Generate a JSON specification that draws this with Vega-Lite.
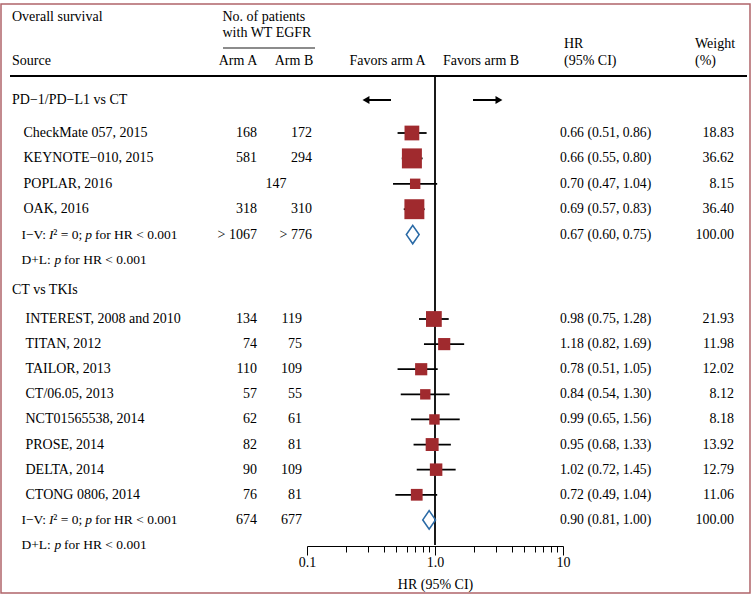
{
  "$schema": "https://vega.github.io/schema/vega-lite/v6.json",
  "width": 749,
  "height": 589,
  "autosize": {"type": "none"},
  "padding": {"left": 1, "top": 4, "right": 3, "bottom": 4},
  "background": "white",
  "config": {
    "view": {"stroke": "#b0646a", "strokeWidth": 1.5},
    "text": {"font": "Liberation Serif", "fontSize": 14, "color": "black", "baseline": "middle"},
    "axis": {"labelFont": "Liberation Serif", "titleFont": "Liberation Serif"}
  },
  "datasets": {
    "rows": [
      {"row": 0, "kind": "group", "grp": 1, "label": "PD−1/PD−L1 vs CT"},
      {"row": 1, "kind": "study", "grp": 1, "label": "CheckMate 057, 2015", "armA": "168", "armB": "172", "hr": 0.66, "lo": 0.51, "hi": 0.86, "hrText": "0.66 (0.51, 0.86)", "weight": 18.83},
      {"row": 2, "kind": "study", "grp": 1, "label": "KEYNOTE−010, 2015", "armA": "581", "armB": "294", "hr": 0.66, "lo": 0.55, "hi": 0.80, "hrText": "0.66 (0.55, 0.80)", "weight": 36.62},
      {"row": 3, "kind": "study", "grp": 1, "label": "POPLAR, 2016", "total": "147", "hr": 0.70, "lo": 0.47, "hi": 1.04, "hrText": "0.70 (0.47, 1.04)", "weight": 8.15},
      {"row": 4, "kind": "study", "grp": 1, "label": "OAK, 2016", "armA": "318", "armB": "310", "hr": 0.69, "lo": 0.57, "hi": 0.83, "hrText": "0.69 (0.57, 0.83)", "weight": 36.40},
      {"row": 5, "kind": "summary", "grp": 1, "t1": "I−V:", "t2": "I", "t3": "² = 0;", "t4": "p", "t5": "for HR < 0.001", "armA": "> 1067", "armB": "> 776", "hr": 0.67, "lo": 0.60, "hi": 0.75, "hrText": "0.67 (0.60, 0.75)", "weight": 100.00},
      {"row": 6, "kind": "note", "grp": 1, "t1": "D+L:", "t4": "p", "t5": "for HR < 0.001"},
      {"row": 7, "kind": "group", "grp": 2, "label": "CT vs TKIs"},
      {"row": 8, "kind": "study", "grp": 2, "label": "INTEREST, 2008 and 2010", "armA": "134", "armB": "119", "hr": 0.98, "lo": 0.75, "hi": 1.28, "hrText": "0.98 (0.75, 1.28)", "weight": 21.93},
      {"row": 9, "kind": "study", "grp": 2, "label": "TITAN, 2012", "armA": "74", "armB": "75", "hr": 1.18, "lo": 0.82, "hi": 1.69, "hrText": "1.18 (0.82, 1.69)", "weight": 11.98},
      {"row": 10, "kind": "study", "grp": 2, "label": "TAILOR, 2013", "armA": "110", "armB": "109", "hr": 0.78, "lo": 0.51, "hi": 1.05, "hrText": "0.78 (0.51, 1.05)", "weight": 12.02},
      {"row": 11, "kind": "study", "grp": 2, "label": "CT/06.05, 2013", "armA": "57", "armB": "55", "hr": 0.84, "lo": 0.54, "hi": 1.30, "hrText": "0.84 (0.54, 1.30)", "weight": 8.12},
      {"row": 12, "kind": "study", "grp": 2, "label": "NCT01565538, 2014", "armA": "62", "armB": "61", "hr": 0.99, "lo": 0.65, "hi": 1.56, "hrText": "0.99 (0.65, 1.56)", "weight": 8.18},
      {"row": 13, "kind": "study", "grp": 2, "label": "PROSE, 2014", "armA": "82", "armB": "81", "hr": 0.95, "lo": 0.68, "hi": 1.33, "hrText": "0.95 (0.68, 1.33)", "weight": 13.92},
      {"row": 14, "kind": "study", "grp": 2, "label": "DELTA, 2014", "armA": "90", "armB": "109", "hr": 1.02, "lo": 0.72, "hi": 1.45, "hrText": "1.02 (0.72, 1.45)", "weight": 12.79},
      {"row": 15, "kind": "study", "grp": 2, "label": "CTONG 0806, 2014", "armA": "76", "armB": "81", "hr": 0.72, "lo": 0.49, "hi": 1.04, "hrText": "0.72 (0.49, 1.04)", "weight": 11.06},
      {"row": 16, "kind": "summary", "grp": 2, "t1": "I−V:", "t2": "I", "t3": "² = 0;", "t4": "p", "t5": "for HR < 0.001", "armA": "674", "armB": "677", "hr": 0.90, "lo": 0.81, "hi": 1.00, "hrText": "0.90 (0.81, 1.00)", "weight": 100.00},
      {"row": 17, "kind": "note", "grp": 2, "t1": "D+L:", "t4": "p", "t5": "for HR < 0.001"}
    ],
    "header": [
      {"text": "Overall survival", "line": 1, "col": 1, "al": "left"},
      {"text": "No. of patients", "line": 1, "col": 5, "al": "left"},
      {"text": "with WT EGFR", "line": 2, "col": 5, "al": "left"},
      {"text": "HR", "line": 3, "col": 17, "al": "left"},
      {"text": "Weight", "line": 3, "col": 18, "al": "left"},
      {"text": "Source", "line": 5, "col": 1, "al": "left"},
      {"text": "(95% CI)", "line": 5, "col": 17, "al": "left"},
      {"text": "(%)", "line": 5, "col": 18, "al": "left"},
      {"text": "Arm A", "line": 5, "col": 7, "al": "center"},
      {"text": "Arm B", "line": 5, "col": 10, "al": "center"},
      {"text": "Favors arm A", "line": 5, "col": 14, "al": "center"},
      {"text": "Favors arm B", "line": 5, "col": 15, "al": "center"}
    ],
    "arrows": [
      {"side": "A", "row": 0, "from": 0.453, "to": 0.289},
      {"side": "B", "row": 0, "from": 1.98, "to": 3.16}
    ]
  },
  "layer": [
    {
      "layer": [
        {
          "data": {"values": [{"hr": 1}]},
          "mark": {"type": "rule", "strokeWidth": 1.8, "color": "black"},
          "encoding": {
            "x": {"field": "hr", "type": "quantitative",
              "scale": {"type": "log", "domain": [0.1, 10], "range": [306, 562], "nice": false},
              "axis": {"orient": "bottom", "offset": -47,
                "values": [0.1, 0.2, 0.3, 0.4, 0.5, 0.6, 0.7, 0.8, 0.9, 1, 2, 3, 4, 5, 6, 7, 8, 9, 10],
                "labelExpr": "datum.value == 0.1 ? '0.1' : datum.value == 1 ? '1.0' : datum.value == 10 ? '10' : ''",
                "tickSize": {"condition": {"test": "datum.value == 0.1 || datum.value == 1 || datum.value == 10", "value": 9}, "value": 6},
                "tickColor": "black", "tickWidth": 1, "domainColor": "black", "domainWidth": 1, "grid": false,
                "labelFontSize": 14, "labelColor": "black", "labelPadding": 0, "labelFlush": false, "labelOverlap": false,
                "title": "HR (95% CI)", "titleFontSize": 14, "titleFontWeight": "normal", "titleColor": "black", "titlePadding": 8}},
            "y": {"datum": -1, "type": "quantitative",
              "scale": {"type": "linear", "domain": [-1, 0, 1, 6, 8, 17], "range": [72, 96, 129, 256, 315, 541], "nice": false, "zero": false},
              "axis": null},
            "y2": {"datum": 17}
          }
        },
        {
          "data": {"name": "rows"},
          "transform": [{"filter": "datum.kind == 'study'"}],
          "mark": {"type": "rule", "strokeWidth": 1.8, "color": "black"},
          "encoding": {
            "x": {"field": "lo", "type": "quantitative"},
            "x2": {"field": "hi"},
            "y": {"field": "row", "type": "quantitative"}
          }
        },
        {
          "data": {"name": "rows"},
          "transform": [{"filter": "datum.kind == 'study'"}],
          "mark": {"type": "point", "shape": "square", "filled": true, "color": "#a02a2e", "opacity": 1},
          "encoding": {
            "x": {"field": "hr", "type": "quantitative"},
            "y": {"field": "row", "type": "quantitative"},
            "size": {"field": "weight", "type": "quantitative", "scale": {"domain": [0, 36.62], "range": [25, 400]}, "legend": null}
          }
        },
        {
          "data": {"name": "rows"},
          "transform": [{"filter": "datum.kind == 'summary'"}],
          "mark": {"type": "point", "shape": "M0,-1L0.69,0L0,1L-0.69,0Z", "filled": false, "stroke": "#2a6aa6", "strokeWidth": 1.6, "size": 340, "opacity": 1},
          "encoding": {
            "x": {"field": "hr", "type": "quantitative"},
            "y": {"field": "row", "type": "quantitative"}
          }
        },
        {
          "data": {"name": "arrows"},
          "mark": {"type": "rule", "strokeWidth": 2, "color": "black"},
          "encoding": {
            "x": {"field": "from", "type": "quantitative"},
            "x2": {"field": "to"},
            "y": {"field": "row", "type": "quantitative"}
          }
        },
        {
          "data": {"name": "arrows"},
          "mark": {"type": "point", "filled": true, "color": "black", "size": 64, "opacity": 1},
          "encoding": {
            "x": {"field": "to", "type": "quantitative"},
            "y": {"field": "row", "type": "quantitative"},
            "shape": {"field": "side", "type": "nominal", "scale": {"domain": ["A", "B"], "range": ["triangle-left", "triangle-right"]}, "legend": null}
          }
        }
      ]
    },
    {
      "data": {"name": "rows"},
      "encoding": {
        "y": {"field": "row", "type": "quantitative",
          "scale": {"type": "linear", "domain": [-1, 0, 1, 6, 8, 17], "range": [72, 96, 129, 256, 315, 541], "nice": false, "zero": false},
          "axis": null}
      },
      "layer": [
        {
          "transform": [{"filter": "datum.kind == 'group'"}],
          "mark": {"type": "text", "align": "left"},
          "encoding": {
            "x": {"datum": 1, "type": "quantitative",
              "scale": {"type": "linear", "domain": [0, 1, 2, 3, 4, 5, 6, 7, 8, 9, 10, 11, 12, 13, 14, 15, 16, 17, 18, 19, 20], "range": [9, 11, 20.5, 22.5, 24.5, 221.5, 222, 237, 256, 275, 293, 301, 311, 314, 386.5, 480, 559, 563, 694, 733, 746], "nice": false, "zero": false},
              "axis": null},
            "text": {"field": "label"}
          }
        },
        {
          "transform": [{"filter": "datum.kind == 'summary' || datum.kind == 'note'"}],
          "mark": {"type": "text", "align": "left", "fontSize": 13.5},
          "encoding": {"x": {"datum": 2, "type": "quantitative"}, "text": {"field": "t1"}}
        },
        {
          "transform": [{"filter": "datum.kind == 'summary'"}],
          "mark": {"type": "text", "align": "left", "fontSize": 13.5, "fontStyle": "italic", "dx": 27.4},
          "encoding": {"x": {"datum": 2, "type": "quantitative"}, "text": {"field": "t2"}}
        },
        {
          "transform": [{"filter": "datum.kind == 'summary'"}],
          "mark": {"type": "text", "align": "left", "fontSize": 13.5, "dx": 31.8},
          "encoding": {"x": {"datum": 2, "type": "quantitative"}, "text": {"field": "t3"}}
        },
        {
          "transform": [{"filter": "datum.kind == 'summary'"}],
          "mark": {"type": "text", "align": "left", "fontSize": 13.5, "fontStyle": "italic", "dx": 63.8},
          "encoding": {"x": {"datum": 2, "type": "quantitative"}, "text": {"field": "t4"}}
        },
        {
          "transform": [{"filter": "datum.kind == 'summary'"}],
          "mark": {"type": "text", "align": "left", "fontSize": 13.5, "dx": 73.4},
          "encoding": {"x": {"datum": 2, "type": "quantitative"}, "text": {"field": "t5"}}
        },
        {
          "transform": [{"filter": "datum.kind == 'note'"}],
          "mark": {"type": "text", "align": "left", "fontSize": 13.5, "fontStyle": "italic", "dx": 33.0},
          "encoding": {"x": {"datum": 2, "type": "quantitative"}, "text": {"field": "t4"}}
        },
        {
          "transform": [{"filter": "datum.kind == 'note'"}],
          "mark": {"type": "text", "align": "left", "fontSize": 13.5, "dx": 42.6},
          "encoding": {"x": {"datum": 2, "type": "quantitative"}, "text": {"field": "t5"}}
        },
        {
          "transform": [{"filter": "datum.kind == 'study' && datum.grp == 1"}],
          "mark": {"type": "text", "align": "left"},
          "encoding": {"x": {"datum": 3, "type": "quantitative"}, "text": {"field": "label"}}
        },
        {
          "transform": [{"filter": "datum.kind == 'study' && datum.grp == 2"}],
          "mark": {"type": "text", "align": "left"},
          "encoding": {"x": {"datum": 4, "type": "quantitative"}, "text": {"field": "label"}}
        },
        {
          "transform": [{"filter": "isValid(datum.armA)"}],
          "mark": {"type": "text", "align": "right"},
          "encoding": {"x": {"datum": 8, "type": "quantitative"}, "text": {"field": "armA"}}
        },
        {
          "transform": [{"filter": "isValid(datum.armB) && datum.grp == 1"}],
          "mark": {"type": "text", "align": "right"},
          "encoding": {"x": {"datum": 12, "type": "quantitative"}, "text": {"field": "armB"}}
        },
        {
          "transform": [{"filter": "isValid(datum.armB) && datum.grp == 2"}],
          "mark": {"type": "text", "align": "right"},
          "encoding": {"x": {"datum": 11, "type": "quantitative"}, "text": {"field": "armB"}}
        },
        {
          "transform": [{"filter": "isValid(datum.total)"}],
          "mark": {"type": "text", "align": "center"},
          "encoding": {"x": {"datum": 9, "type": "quantitative"}, "text": {"field": "total"}}
        },
        {
          "transform": [{"filter": "isValid(datum.hrText)"}],
          "mark": {"type": "text", "align": "left", "fontSize": 13.7},
          "encoding": {"x": {"datum": 16, "type": "quantitative"}, "text": {"field": "hrText"}}
        },
        {
          "transform": [{"filter": "isValid(datum.weight)"}],
          "mark": {"type": "text", "align": "right"},
          "encoding": {"x": {"datum": 19, "type": "quantitative"}, "text": {"field": "weight", "type": "quantitative", "format": ".2f"}}
        }
      ]
    },
    {
      "layer": [
        {
          "data": {"name": "header"},
          "transform": [{"filter": "datum.al == 'left'"}],
          "mark": {"type": "text", "align": "left"},
          "encoding": {
            "x": {"field": "col", "type": "quantitative",
              "scale": {"type": "linear", "domain": [0, 1, 2, 3, 4, 5, 6, 7, 8, 9, 10, 11, 12, 13, 14, 15, 16, 17, 18, 19, 20], "range": [9, 11, 20.5, 22.5, 24.5, 221.5, 222, 237, 256, 275, 293, 301, 311, 314, 386.5, 480, 559, 563, 694, 733, 746], "nice": false, "zero": false},
              "axis": null},
            "y": {"field": "line", "type": "quantitative",
              "scale": {"type": "linear", "domain": [1, 2, 3, 4, 5, 6], "range": [13, 29, 40, 44, 57, 72], "nice": false, "zero": false},
              "axis": null},
            "text": {"field": "text"}
          }
        },
        {
          "data": {"name": "header"},
          "transform": [{"filter": "datum.al == 'center'"}],
          "mark": {"type": "text", "align": "center"},
          "encoding": {
            "x": {"field": "col", "type": "quantitative"},
            "y": {"field": "line", "type": "quantitative"},
            "text": {"field": "text"}
          }
        },
        {
          "data": {"values": [{"rule": "header"}]},
          "mark": {"type": "rule", "strokeWidth": 2, "color": "black"},
          "encoding": {
            "x": {"datum": 0, "type": "quantitative"},
            "x2": {"datum": 20},
            "y": {"datum": 6, "type": "quantitative"}
          }
        },
        {
          "data": {"values": [{"rule": "patients"}]},
          "mark": {"type": "rule", "strokeWidth": 2, "color": "#8c8c8c"},
          "encoding": {
            "x": {"datum": 6, "type": "quantitative"},
            "x2": {"datum": 13},
            "y": {"datum": 4, "type": "quantitative"}
          }
        }
      ]
    }
  ],
  "resolve": {"scale": {"x": "independent", "y": "independent"}, "axis": {"x": "independent", "y": "independent"}}
}
